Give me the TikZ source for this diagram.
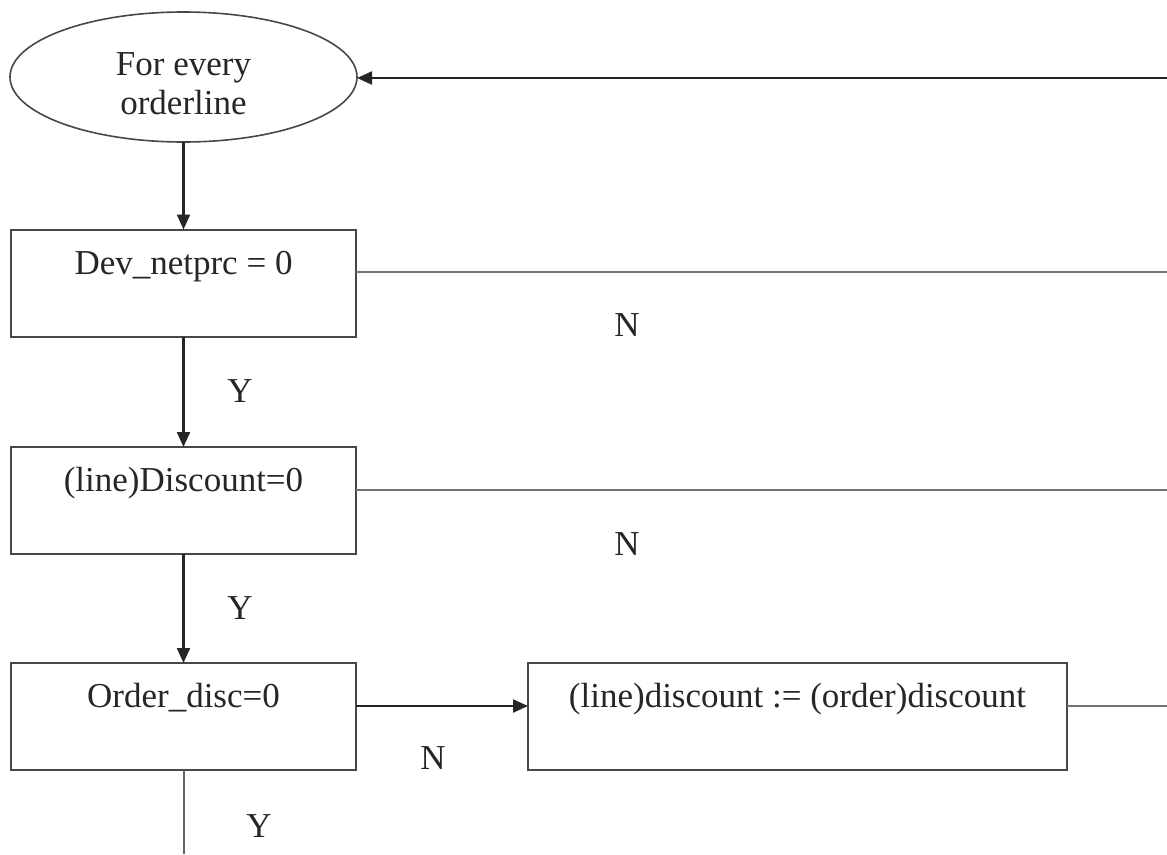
\documentclass[tikz,border=0pt]{standalone}
\usepackage{fontspec}
\setmainfont{Liberation Serif}
\usetikzlibrary{shapes.geometric,arrows.meta}
\begin{document}
\begin{tikzpicture}[x=1pt,y=-1pt,
  box/.style={draw=black!72, line width=2pt, minimum height=107pt, inner sep=0pt, outer sep=0pt},
  oval/.style={ellipse, draw=black!72, line width=1.6pt, minimum width=347pt, minimum height=130pt, inner sep=0pt, outer sep=0pt},
  lbl/.style={font=\fontsize{35}{39}\selectfont, text=black!85, inner sep=0pt},
  arr/.style={draw=black!85, line width=2.2pt, -{Triangle[length=15pt,width=13pt]}},
  gline/.style={draw=black!55, line width=2pt},
  yline/.style={draw=black!60, line width=2pt}
]
\useasboundingbox (0,0) rectangle (1167,854);

% shapes
\node[oval] (e) at (183.5,77) {};
\node[box, minimum width=345pt] (b1) at (183.5,283) {};
\node[box, minimum width=345pt] (b2) at (183.5,500.5) {};
\node[box, minimum width=345pt] (b3) at (183.5,716.5) {};
\node[box, minimum width=539pt] (b4) at (797.5,716.5) {};

% texts
\node[lbl, anchor=base] (te1) at (183.5,75) {For every};
\node[lbl, anchor=base] (te2) at (183.5,114) {orderline};
\node[lbl, anchor=base] (t1) at ([yshift=-45pt]b1.north) {Dev\_netprc = 0};
\node[lbl, anchor=base] (t2) at ([yshift=-44pt]b2.north) {(line)Discount=0};
\node[lbl, anchor=base] (t3) at ([yshift=-44pt]b3.north) {Order\_disc=0};
\node[lbl, anchor=base] (t4) at ([yshift=-44pt]b4.north) {(line)discount := (order)discount};

% labels
\node[lbl] (n1) at (627,325) {N};
\node[lbl] (y1) at (240,391) {Y};
\node[lbl] (n2) at (627,544) {N};
\node[lbl] (y2) at (240,608) {Y};
\node[lbl] (n3) at (433,758) {N};
\node[lbl] (y3) at (259,826) {Y};

% coordinates for free ends
\coordinate (rin) at (1167,78);
\coordinate (r1) at (1167,272);
\coordinate (r2) at (1167,490);
\coordinate (r4) at (1167,706);
\coordinate (m3) at (0,706);
\coordinate (bot) at (183.5,854);

% connectors
\draw[arr] (rin) -- (e.east |- rin);
\draw[arr] (e.south) -- (b1.north);
\draw[arr] (b1.south) -- (b2.north);
\draw[arr] (b2.south) -- (b3.north);
\draw[arr] (b3.east |- m3) -- (b4.west |- m3);
\draw[gline] (b1.east |- r1) -- (r1);
\draw[gline] (b2.east |- r2) -- (r2);
\draw[gline] (b4.east |- r4) -- (r4);
\draw[yline] (b3.south) -- (bot);
\end{tikzpicture}
\end{document}
